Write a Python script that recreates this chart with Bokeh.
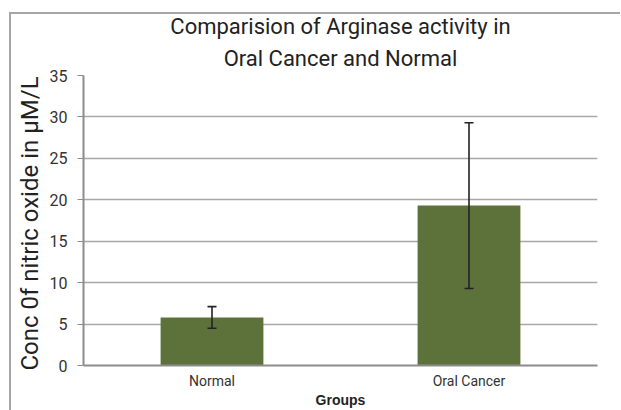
from bokeh.plotting import figure
from bokeh.models import ColumnDataSource, Whisker, TeeHead, FixedTicker, Title, InlineStyleSheet
from bokeh.embed import file_html
from bokeh.resources import INLINE

groups = ["Normal", "Oral Cancer"]
means = [5.8, 19.3]
errors = [1.3, 10.0]
y_ticks = [0, 5, 10, 15, 20, 25, 30, 35]
title_lines = ["Comparision of Arginase activity in", "Oral Cancer and Normal"]
y_label = "Conc  0f nitric oxide in µM/L"

lower = [m - e for m, e in zip(means, errors)]
upper = [m + e for m, e in zip(means, errors)]
src = ColumnDataSource(dict(g=groups, m=means, lo=lower, hi=upper))

FONT = "Roboto"

p = figure(x_range=groups, y_range=(0, 35), width=620, height=410,
           output_backend="svg", toolbar_location=None,
           min_border_left=83, min_border_right=23, min_border_top=75, min_border_bottom=41)
p.outline_line_color = None
frame_css = """
:host { position: relative; }
:host::after {
  content: "";
  position: absolute;
  left: 9px; top: 12px; width: 611px; height: 398px;
  border-top: 2px solid #a6a6a6;
  border-left: 2px solid #a6a6a6;
  box-sizing: border-box;
  pointer-events: none;
}
"""
p.stylesheets = [InlineStyleSheet(css=frame_css)]

# two-line title, each line centred (p.title is the outer line)
p.title.text = title_lines[0]
p.title.align = "center"
p.title.text_font = FONT
p.title.text_font_size = "22px"
p.title.text_font_style = "normal"
p.title.text_color = "#222222"
p.title.text_line_height = 1.0
p.title.standoff = 0
t2 = Title(text=title_lines[1], align="center", text_font=FONT, text_font_size="22px",
           text_font_style="normal", text_color="#222222", text_line_height=1.0, standoff=10)
p.add_layout(t2, "above")

p.vbar(x="g", top="m", width=0.4, source=src, fill_color="#5d723a", line_color=None)
whisk = Whisker(source=src, base="g", lower="lo", upper="hi",
                line_color="#222222", line_width=1.6, level="overlay",
                upper_head=TeeHead(size=9, line_color="#222222", line_width=1.6),
                lower_head=TeeHead(size=9, line_color="#222222", line_width=1.6))
p.add_layout(whisk)

p.xgrid.grid_line_color = None
p.ygrid.grid_line_color = "#a8a8a8"
p.ygrid.grid_line_width = 1.5

p.yaxis.ticker = FixedTicker(ticks=y_ticks)
p.yaxis.axis_line_color = "#8c8c8c"
p.yaxis.axis_line_width = 2
p.yaxis.major_tick_line_color = "#8c8c8c"
p.yaxis.major_tick_out = 6
p.yaxis.major_tick_in = 0
p.yaxis.minor_tick_line_color = None
p.yaxis.major_label_text_font = FONT
p.yaxis.major_label_text_font_size = "16px"
p.yaxis.major_label_text_color = "#333333"
p.yaxis.major_label_standoff = 10
p.yaxis.axis_label = y_label
p.yaxis.axis_label_text_font = FONT
p.yaxis.axis_label_text_font_size = "24px"
p.yaxis.axis_label_text_font_style = "normal"
p.yaxis.axis_label_text_color = "#222222"
p.yaxis.axis_label_standoff = 3

p.xaxis.axis_line_color = "#8c8c8c"
p.xaxis.axis_line_width = 2
p.xaxis.major_tick_line_color = None
p.xaxis.major_tick_out = 0
p.xaxis.major_tick_in = 0
p.xaxis.minor_tick_line_color = None
p.xaxis.major_label_text_font = FONT
p.xaxis.major_label_text_font_size = "14px"
p.xaxis.major_label_text_color = "#333333"
p.xaxis.major_label_standoff = 7
p.xaxis.axis_label = "Groups"
p.xaxis.axis_label_text_font = "Liberation Sans"
p.xaxis.axis_label_text_font_size = "14px"
p.xaxis.axis_label_text_font_style = "bold"
p.xaxis.axis_label_text_color = "#222222"
p.xaxis.axis_label_standoff = 0

open("out.html", "w").write(file_html(p, INLINE))
